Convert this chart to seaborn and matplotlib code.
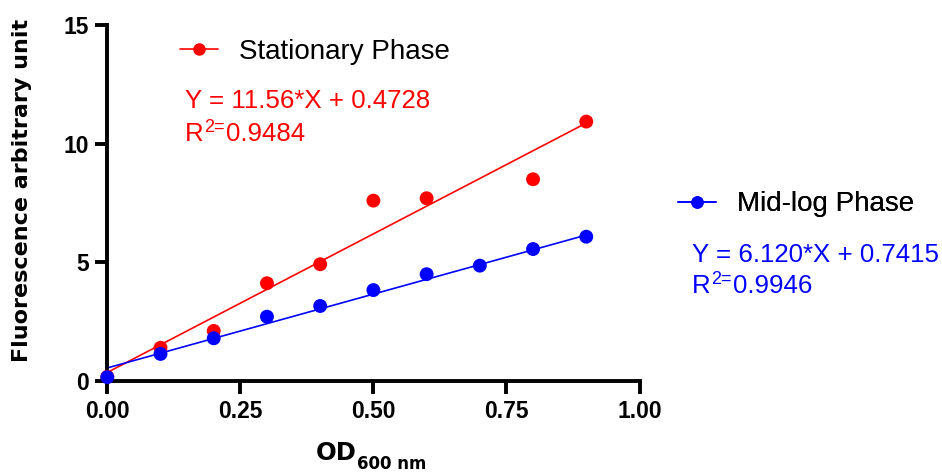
import matplotlib
matplotlib.use("Agg")
import matplotlib.pyplot as plt
from matplotlib.lines import Line2D
import pandas as pd
import seaborn as sns

# ---------------- data ----------------
series_names = ["Stationary Phase", "Mid-log Phase"]
series_colors = ["#FF0000", "#0000FF"]

stationary_x = [0.0, 0.1, 0.2, 0.3, 0.4, 0.5, 0.6, 0.8, 0.9]
stationary_y = [0.18, 1.40, 2.11, 4.12, 4.92, 7.60, 7.70, 8.50, 10.93]

midlog_x = [0.0, 0.1, 0.2, 0.3, 0.4, 0.5, 0.6, 0.7, 0.8, 0.9]
midlog_y = [0.16, 1.14, 1.80, 2.71, 3.16, 3.83, 4.50, 4.86, 5.56, 6.08]

# regression lines as drawn in the reference (end points)
fit_x = [0.0, 0.9]
stationary_fit_y = [0.36, 10.87]
midlog_fit_y = [0.55, 6.15]

eq_texts = ["Y = 11.56*X + 0.4728", "Y = 6.120*X + 0.7415"]
r2_values = ["0.9484", "0.9946"]

x_ticks = [0.0, 0.25, 0.5, 0.75, 1.0]
x_ticklabels = ["0.00", "0.25", "0.50", "0.75", "1.00"]
y_ticks = [0, 5, 10, 15]
y_label = "Fluorescence arbitrary unit"
x_label_main = "OD"
x_label_sub = "600 nm"

# ---------------- styling ----------------
sns.set_style("ticks")
plt.rcParams["font.family"] = ["Liberation Sans", "DejaVu Sans"]
plt.rcParams["text.color"] = "black"
plt.rcParams["axes.labelcolor"] = "black"
plt.rcParams["xtick.color"] = "black"
plt.rcParams["ytick.color"] = "black"

W, H = 942, 474
fig = plt.figure(figsize=(W / 100, H / 100), dpi=100)
ax = fig.add_axes([107.3 / W, (H - 381) / H, 532.2 / W, 356 / H])

pts = pd.concat([
    pd.DataFrame({"x": stationary_x, "y": stationary_y, "Phase": series_names[0]}),
    pd.DataFrame({"x": midlog_x, "y": midlog_y, "Phase": series_names[1]}),
], ignore_index=True)

fits = pd.concat([
    pd.DataFrame({"x": fit_x, "y": stationary_fit_y, "Phase": series_names[0]}),
    pd.DataFrame({"x": fit_x, "y": midlog_fit_y, "Phase": series_names[1]}),
], ignore_index=True)

palette = dict(zip(series_names, series_colors))

sns.lineplot(data=fits, x="x", y="y", hue="Phase", palette=palette,
             hue_order=series_names, linewidth=1.2, legend=False, ax=ax,
             zorder=2)
sns.scatterplot(data=pts, x="x", y="y", hue="Phase", palette=palette,
                hue_order=series_names, s=100, edgecolor="none",
                legend=False, ax=ax, zorder=3, clip_on=False)

ax.set_xlim(0, 1.0)
ax.set_ylim(0, 15)
ax.set_xticks(x_ticks)
ax.set_xticklabels(x_ticklabels)
ax.set_yticks(y_ticks)
ax.set_xlabel("")
ax.set_ylabel(y_label, fontsize=16, fontweight="bold", family="DejaVu Sans",
              color="black")
ax.yaxis.set_label_coords(-0.141, 0.535)

sns.despine(ax=ax)
for sp in ("left", "bottom"):
    ax.spines[sp].set_linewidth(2.8)
    ax.spines[sp].set_color("black")
ax.tick_params(axis="both", which="major", length=9, width=2.8,
               color="black", labelcolor="black", direction="out",
               labelsize=16.5, pad=4)
ax.tick_params(axis="x", pad=5)
for lab in ax.get_xticklabels() + ax.get_yticklabels():
    lab.set_fontweight("bold")
    lab.set_family("Liberation Sans")

# x label with subscript
fig.text(315.5 / W, 1 - 460 / H, x_label_main, fontsize=17.5,
         fontweight="bold", family="DejaVu Sans", va="baseline", ha="left")
fig.text(357 / W, 1 - 469 / H, x_label_sub, fontsize=12,
         fontweight="bold", family="DejaVu Sans", va="baseline", ha="left")

# legends (one per series, placed like the reference)
legend_pos = [(180 / W, 1 - 51.7 / H), (678 / W, 1 - 204.3 / H)]
for name, col, pos in zip(series_names, series_colors, legend_pos):
    h = Line2D([], [], color=col, marker="o", markersize=9,
               markeredgewidth=0, linewidth=1.2)
    leg = ax.legend(handles=[h], labels=[name], loc="center left",
                    bbox_to_anchor=pos, bbox_transform=fig.transFigure,
                    frameon=False, borderpad=0, borderaxespad=0,
                    handlelength=1.37, handletextpad=0.75,
                    prop={"family": "Liberation Sans", "size": 20})
    for t in leg.get_texts():
        t.set_color("black")
    ax.add_artist(leg)

# regression equations
FS = 18.6
eq_pos = [(185 / W, 108, 141), (691.7 / W, 261.7, 293)]
for txt, r2, col, (xp, y1, y2) in zip(eq_texts, r2_values, series_colors, eq_pos):
    fig.text(xp, 1 - y1 / H, txt, color=col, fontsize=FS,
             family="Liberation Sans", va="baseline", ha="left")
    r = fig.text(xp, 1 - y2 / H, "R", color=col, fontsize=FS,
                 family="Liberation Sans", va="baseline", ha="left")
    sup = ax.annotate("2=", xy=(1, 0), xycoords=r, xytext=(0.6, 7.5),
                      textcoords="offset points", va="bottom", ha="left",
                      fontsize=13, color=col, family="Liberation Sans",
                      annotation_clip=False)
    ax.annotate(r2, xy=(1, 0), xycoords=(sup, r), xytext=(1.0, 0),
                textcoords="offset points", va="bottom", ha="left",
                fontsize=FS, color=col, family="Liberation Sans",
                annotation_clip=False)

fig.savefig("out.png", dpi=100)
